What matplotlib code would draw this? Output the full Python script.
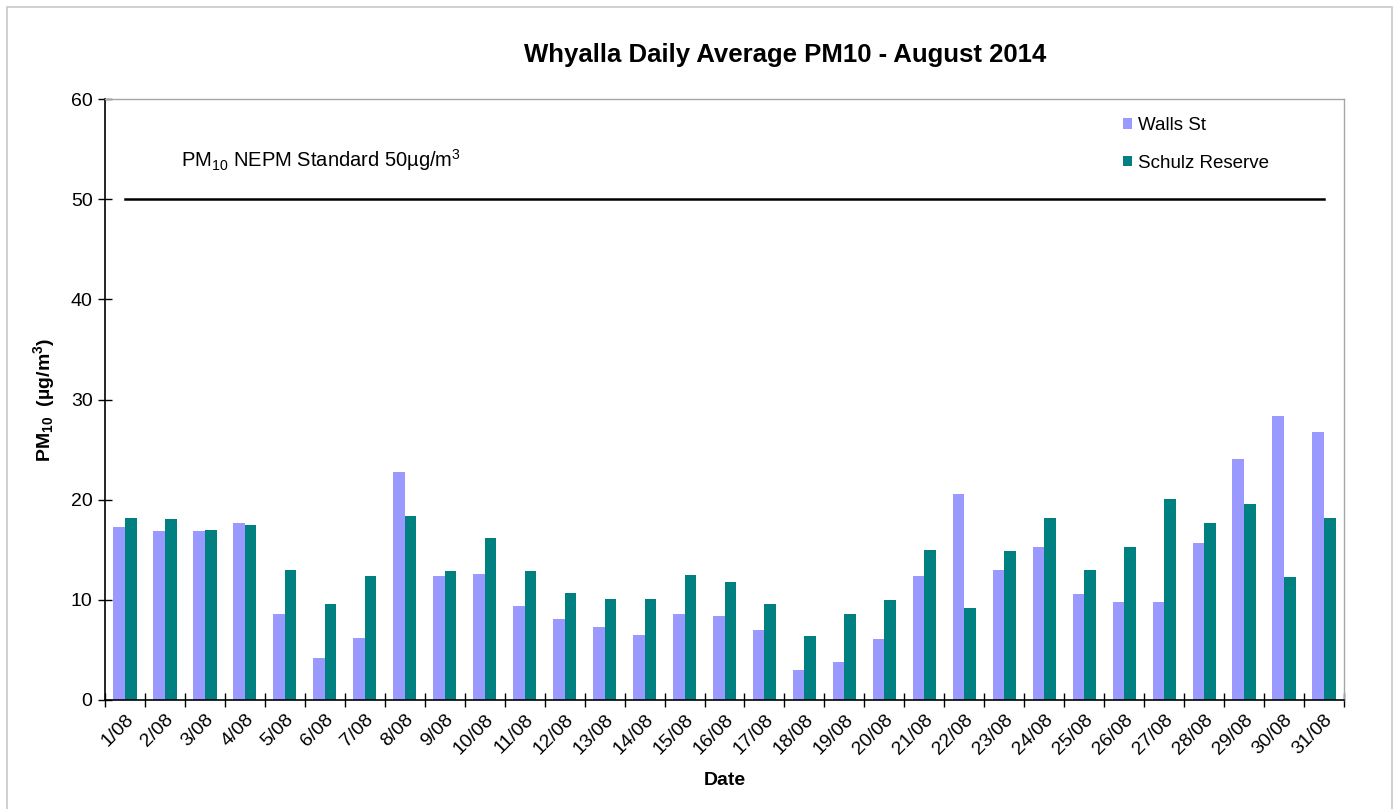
import matplotlib
matplotlib.use('Agg')
import matplotlib.pyplot as plt
from matplotlib.patches import Rectangle
import numpy as np

plt.rcParams['font.family'] = ['Liberation Sans', 'DejaVu Sans']
plt.rcParams['mathtext.fontset'] = 'custom'
plt.rcParams['mathtext.rm'] = 'Liberation Sans'
plt.rcParams['mathtext.it'] = 'Liberation Sans'
plt.rcParams['mathtext.bf'] = 'Liberation Sans:bold'

# Daily average PM10 (ug/m3), August 2014
dates = [f'{d}/08' for d in range(1, 32)]
walls_st = [17.3, 16.9, 16.9, 17.7, 8.6, 4.2, 6.2, 22.8, 12.4, 12.6,
            9.4, 8.1, 7.3, 6.5, 8.6, 8.4, 7.0, 3.0, 3.8, 6.1,
            12.4, 20.6, 13.0, 15.3, 10.6, 9.75, 9.75, 15.7, 24.1, 28.4, 26.8]
schulz_reserve = [18.2, 18.1, 17.0, 17.5, 13.0, 9.6, 12.4, 18.4, 12.9, 16.2,
                  12.9, 10.7, 10.1, 10.1, 12.5, 11.8, 9.6, 6.4, 8.6, 9.95,
                  15.0, 9.2, 14.9, 18.2, 13.0, 15.3, 20.1, 17.7, 19.6, 12.3, 18.2]
nepm_standard = 50

W, H = 1394, 809
fig = plt.figure(figsize=(W / 100, H / 100), dpi=100)
ax = fig.add_axes([105 / W, 1 - 700 / H, 1239 / W, 601 / H])

x = np.arange(len(dates))
bw = 0.29
ax.bar(x - bw / 2, walls_st, bw, color='#9999ff', label='Walls St')
ax.bar(x + bw / 2, schulz_reserve, bw, color='#008080', label='Schulz Reserve')
ax.plot(x, [nepm_standard] * len(x), color='black', lw=1.8)

ax.set_xlim(-0.5, len(dates) - 0.5)
ax.set_ylim(0, 60)
ax.set_yticks(range(0, 61, 10))
ax.tick_params(axis='y', direction='inout', length=10, width=1, labelsize=14, pad=4)

# labels at group centres, tick marks on the group boundaries
ax.set_xticks(x)
ax.set_xticklabels(dates, rotation=45, ha='right', rotation_mode='anchor', fontsize=14)
ax.tick_params(axis='x', which='major', length=0, pad=8)
ax.set_xticks(np.arange(-0.5, len(dates)), minor=True)
ax.tick_params(axis='x', which='minor', direction='inout', length=10, width=1)

for s in ['left', 'bottom']:
    ax.spines[s].set_color('black')
    ax.spines[s].set_linewidth(1.2)
for s in ['top', 'right']:
    ax.spines[s].set_color('#a6a6a6')
    ax.spines[s].set_linewidth(1.0)

ax.set_xlabel('Date', fontsize=14, fontweight='bold', labelpad=10)
ax.set_ylabel(r'PM$_{\mathbf{10}}$  (µg/m$^{\mathbf{3}}$)', fontsize=14, fontweight='bold', labelpad=10)

fig.text(785 / W, 1 - 55 / H, 'Whyalla Daily Average PM10 - August 2014',
         ha='center', va='center', fontsize=18.5, fontweight='bold')
fig.text(181 / W, 1 - 160 / H, r'PM$_{10}$ NEPM Standard 50µg/m$^3$',
         ha='left', va='center', fontsize=14.5)

fig.legend(loc='upper left', bbox_to_anchor=(1123 / W, 1 - 117 / H), frameon=False,
           fontsize=13.5, handlelength=0.5, handleheight=0.5, handletextpad=0.3,
           labelspacing=1.1, borderpad=0, borderaxespad=0)

fig.patches.append(Rectangle((7 / W, -0.01), 1385 / W, 1 - 7 / H + 0.01,
                             transform=fig.transFigure, fill=False,
                             edgecolor='#c8c8c8', lw=1.2))

fig.savefig('out.png', dpi=100)
